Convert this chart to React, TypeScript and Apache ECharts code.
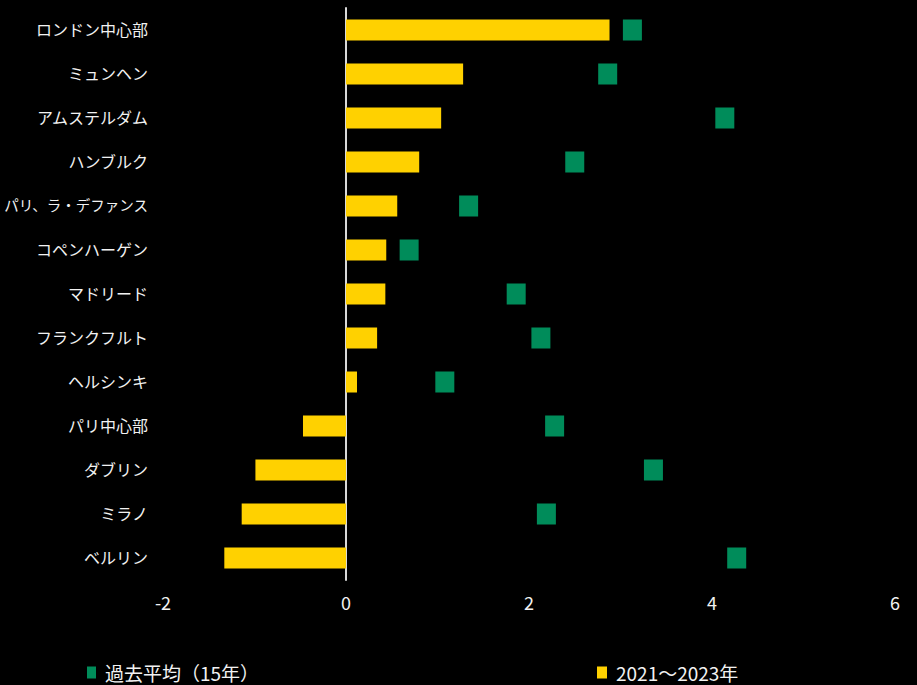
import React, { useEffect, useRef } from "react";
import * as echarts from "echarts";

const categories = [
  "ロンドン中心部",
  "ミュンヘン",
  "アムステルダム",
  "ハンブルク",
  "パリ、ラ・デファンス",
  "コペンハーゲン",
  "マドリード",
  "フランクフルト",
  "ヘルシンキ",
  "パリ中心部",
  "ダブリン",
  "ミラノ",
  "ベルリン",
];

const recentValues = [2.88, 1.28, 1.04, 0.8, 0.56, 0.44, 0.43, 0.34, 0.12, -0.47, -0.99, -1.14, -1.33];
const historicalAvg = [3.13, 2.86, 4.14, 2.5, 1.34, 0.69, 1.86, 2.13, 1.08, 2.28, 3.36, 2.19, 4.27];

const xTicks = [-2, 0, 2, 4, 6];

const seriesNames = ["過去平均（15年）", "2021～2023年"];

const FONT = '"Noto Sans CJK JP", "Noto Sans", sans-serif';
const TEXT = "#f2f2f2";

function labelFormatter(v: string) {
  if (v.length > 8) return "{s|" + v + "}";
  return v;
}

export default function App() {
  const ref = useRef<HTMLDivElement>(null);
  useEffect(() => {
    if (!ref.current) return;
    const chart = echarts.init(ref.current, undefined, { renderer: "svg" });
    const legendText = { color: TEXT, fontSize: 19, fontFamily: FONT, padding: [0, 0, 0, 4] };
    chart.setOption({
      animation: false,
      backgroundColor: "#000000",
      textStyle: { fontFamily: FONT },
      grid: { left: 163, right: 22, top: 8, bottom: 105, containLabel: false, outerBoundsMode: "none" },
      legend: [
        {
          data: [seriesNames[0]],
          left: 87,
          top: 663,
          padding: 0,
          itemWidth: 9,
          itemHeight: 12,
          icon: "rect",
          textStyle: legendText,
        },
        {
          data: [seriesNames[1]],
          left: 597,
          top: 663,
          padding: 0,
          itemWidth: 10,
          itemHeight: 12,
          icon: "rect",
          textStyle: legendText,
        },
      ],
      xAxis: {
        type: "value",
        min: xTicks[0],
        max: xTicks[xTicks.length - 1],
        interval: 2,
        axisLine: { show: false },
        axisTick: { show: false },
        splitLine: { show: false },
        axisLabel: { color: TEXT, fontSize: 18, margin: 13, fontFamily: FONT },
      },
      yAxis: {
        type: "category",
        data: categories,
        inverse: true,
        axisLine: { show: true, onZero: true, lineStyle: { color: "#d9d9d9", width: 2 } },
        axisTick: { show: false },
        axisLabel: {
          color: TEXT,
          fontSize: 16,
          margin: 15,
          fontFamily: FONT,
          padding: [0, 0, 3, 0],
          formatter: labelFormatter,
          rich: {
            s: { color: TEXT, fontSize: 14.5, fontFamily: FONT },
          },
        },
      },
      series: [
        {
          name: seriesNames[1],
          type: "bar",
          data: recentValues,
          barWidth: 21,
          itemStyle: { color: "#FFD100" },
          z: 2,
        },
        {
          name: seriesNames[0],
          type: "scatter",
          data: historicalAvg,
          symbol: "rect",
          symbolSize: [19, 21],
          itemStyle: { color: "#008C5A", opacity: 1 },
          z: 3,
        },
      ],
    });
    return () => chart.dispose();
  }, []);
  return <div ref={ref} style={{ width: 917, height: 685, position: "absolute", left: 0, top: 0 }} />;
}
